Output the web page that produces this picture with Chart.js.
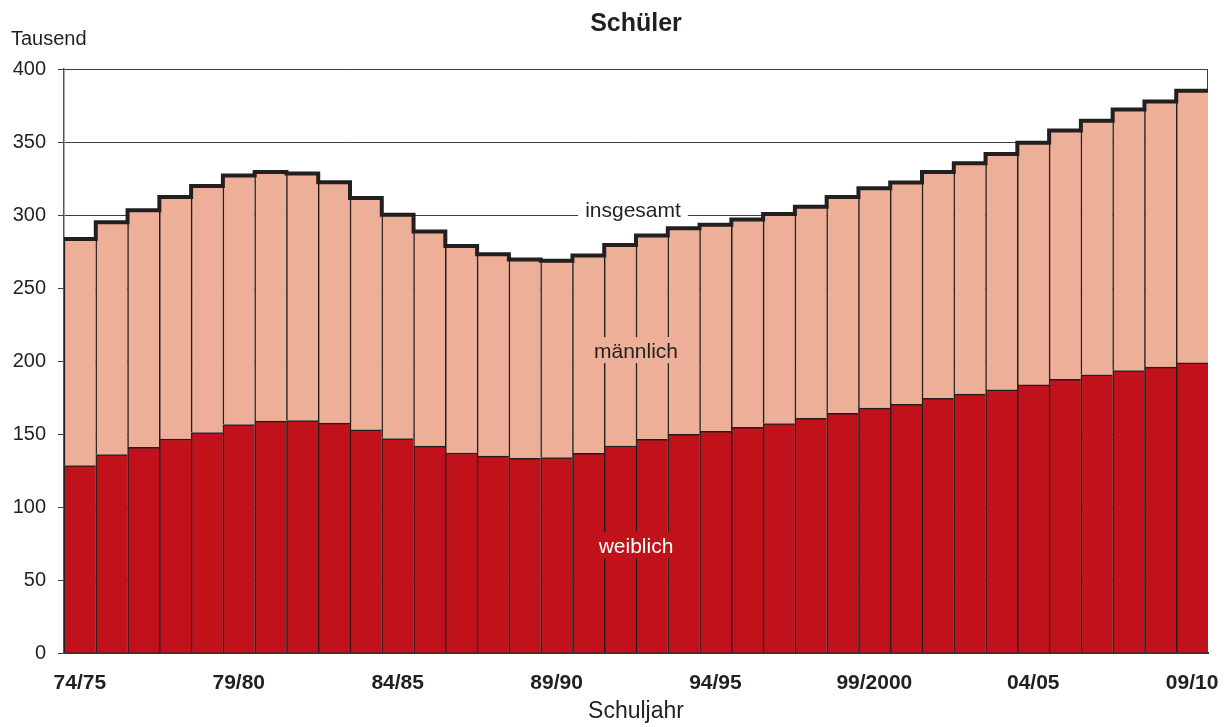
<!DOCTYPE html>
<html lang="de">
<head>
<meta charset="utf-8">
<title>Schüler</title>
<script src="https://cdn.jsdelivr.net/npm/chart.js@4.4.1/dist/chart.umd.min.js"></script>
<style>
    body { margin: 0; background: #ffffff; }
    canvas { display: block; }
</style>
</head>
<body>
<canvas id="schuelerGrafik" width="1232" height="727"></canvas>
<script>
// Schuljahre (Kategorien)
const schuljahre = [
    "74/75", "75/76", "76/77", "77/78", "78/79", "79/80", "80/81", "81/82", "82/83", "83/84",
    "84/85", "85/86", "86/87", "87/88", "88/89", "89/90", "90/91", "91/92", "92/93", "93/94",
    "94/95", "95/96", "96/97", "97/98", "98/99", "99/2000", "00/01", "01/02", "02/03", "03/04",
    "04/05", "05/06", "06/07", "07/08", "08/09", "09/10"
];

// Werte in Tausend
const weiblich = [
    128.4, 135.9, 140.9, 146.6, 151.0, 156.5, 158.8, 159.2, 157.4, 152.8,
    146.9, 141.7, 137.0, 134.8, 133.4, 133.9, 136.8, 141.8, 146.4, 149.8,
    151.9, 154.6, 157.2, 160.7, 164.2, 167.7, 170.4, 174.5, 177.3, 180.2,
    183.6, 187.5, 190.5, 193.5, 195.8, 198.7
];
const insgesamt = [
    283.5, 295.1, 303.3, 312.4, 319.8, 327.1, 329.4, 328.5, 322.5, 311.6,
    300.1, 288.7, 278.7, 273.2, 269.5, 268.6, 272.3, 279.5, 286.0, 291.0,
    293.3, 296.9, 300.6, 305.6, 312.4, 318.4, 322.3, 329.4, 335.4, 341.7,
    349.5, 357.8, 364.5, 372.3, 377.8, 385.1
];
// männlich = insgesamt - weiblich
const maennlich = insgesamt.map((wert, i) => +(wert - weiblich[i]).toFixed(1));

// Y-Achse: 0 bis 400, Schritt 50
const yMin = 0, yMax = 400, ySchritt = 50;

const krasas = {
    teksts: '#231f20',
    rot: '#c1121c',
    rosa: '#edaf97',
    linie: '#231f20',
    gitter: '#3d3a3a'
};
const schrift = '"Liberation Sans", Arial, Helvetica, sans-serif';

// Eigene Zeichnungen: Titel, Beschriftungen, Stufenlinie "insgesamt"
const beschriftung = {
    id: 'beschriftung',
    beforeDatasetsDraw(chart) {
        const { ctx, chartArea } = chart;
        // rechter Rand des Diagramms
        ctx.save();
        ctx.strokeStyle = krasas.gitter;
        ctx.lineWidth = 1;
        ctx.beginPath();
        ctx.moveTo(chartArea.right - 0.5, chartArea.top);
        ctx.lineTo(chartArea.right - 0.5, chartArea.bottom);
        ctx.stroke();
        ctx.restore();
    },
    afterDatasetsDraw(chart) {
        const { ctx, chartArea } = chart;
        const x = chart.scales.x;
        const y = chart.scales.y;
        const balken = chart.getDatasetMeta(0).data;
        const mitte = (chartArea.left + chartArea.right) / 2;

        // Stufenlinie für die Gesamtzahl
        ctx.save();
        ctx.strokeStyle = krasas.linie;
        ctx.lineWidth = 4;
        ctx.lineJoin = 'miter';
        ctx.beginPath();
        insgesamt.forEach((wert, i) => {
            const b = balken[i];
            const x0 = x.getPixelForValue(i) - b.width / 2;
            const x1 = x.getPixelForValue(i) + b.width / 2;
            const py = y.getPixelForValue(wert);
            if (i === 0) ctx.moveTo(x0, py); else ctx.lineTo(x0, py);
            ctx.lineTo(x1, py);
        });
        ctx.stroke();
        ctx.restore();

        ctx.save();
        ctx.fillStyle = krasas.teksts;
        ctx.textBaseline = 'alphabetic';

        // Titel
        ctx.font = 'bold 25px ' + schrift;
        ctx.textAlign = 'center';
        ctx.fillText('Schüler', mitte, 31);

        // Einheit
        ctx.font = '20px ' + schrift;
        ctx.textAlign = 'left';
        ctx.fillText('Tausend', 11, 45);

        // Achsentitel
        ctx.font = '23px ' + schrift;
        ctx.textAlign = 'center';
        ctx.fillText('Schuljahr', mitte, 718);

        // "insgesamt" auf der 300er Linie
        ctx.font = '21px ' + schrift;
        const y300 = y.getPixelForValue(300);
        const xIns = mitte - 3;
        const wIns = ctx.measureText('insgesamt').width;
        ctx.fillStyle = '#ffffff';
        ctx.fillRect(xIns - wIns / 2 - 7, y300 - 3, wIns + 14, 6);
        ctx.fillStyle = krasas.teksts;
        ctx.fillText('insgesamt', xIns, y300 + 2);

        // "männlich" mit rosa Hintergrund
        const yM = y.getPixelForValue(202);
        const wM = ctx.measureText('männlich').width;
        ctx.fillStyle = krasas.rosa;
        ctx.fillRect(mitte - wM / 2 - 5, yM - 21, wM + 10, 26);
        ctx.fillStyle = krasas.teksts;
        ctx.fillText('männlich', mitte, yM);

        // "weiblich" mit rotem Hintergrund
        const yW = y.getPixelForValue(68.5);
        const wW = ctx.measureText('weiblich').width;
        ctx.fillStyle = krasas.rot;
        ctx.fillRect(mitte - wW / 2 - 5, yW - 21, wW + 10, 26);
        ctx.fillStyle = '#ffffff';
        ctx.fillText('weiblich', mitte, yW);

        ctx.restore();
    }
};

new Chart(document.getElementById('schuelerGrafik'), {
    type: 'bar',
    data: {
        labels: schuljahre,
        datasets: [
            {
                label: 'weiblich',
                data: weiblich,
                backgroundColor: krasas.rot,
                borderColor: krasas.linie,
                borderWidth: { top: 1.5, left: 1.5, right: 0, bottom: 0 },
                borderSkipped: false,
                barPercentage: 1,
                categoryPercentage: 1
            },
            {
                label: 'männlich',
                data: maennlich,
                backgroundColor: krasas.rosa,
                borderColor: krasas.linie,
                borderWidth: { top: 1.5, left: 1.5, right: 0, bottom: 0 },
                borderSkipped: false,
                barPercentage: 1,
                categoryPercentage: 1
            }
        ]
    },
    options: {
        responsive: false,
        animation: false,
        layout: { padding: { left: 0, right: 24, top: 69, bottom: 0 } },
        plugins: {
            legend: { display: false },
            title: { display: false },
            tooltip: { enabled: false }
        },
        scales: {
            x: {
                stacked: true,
                afterFit(scale) {
                    scale.height = 74;
                    // Beschriftungen dürfen über den Rand hinausragen
                    scale.paddingLeft = 0;
                    scale.paddingRight = 0;
                },
                grid: { display: false, drawTicks: false },
                border: { display: true, color: '#333333', width: 2 },
                ticks: {
                    autoSkip: false,
                    maxRotation: 0,
                    padding: 18,
                    color: krasas.teksts,
                    font: { family: schrift, size: 21, weight: 'bold' },
                    callback(wert, index) {
                        return index % 5 === 0 ? schuljahre[index] : '';
                    }
                }
            },
            y: {
                stacked: true,
                min: yMin,
                max: yMax,
                afterFit(scale) {
                    scale.width = 64;
                    scale.paddingTop = 0;
                    scale.paddingBottom = 0;
                },
                grid: { color: krasas.gitter, lineWidth: 1, tickLength: 6 },
                border: { display: true, color: '#555555', width: 1.5 },
                ticks: {
                    stepSize: ySchritt,
                    padding: 12,
                    color: krasas.teksts,
                    font: { family: schrift, size: 20 }
                }
            }
        }
    },
    plugins: [beschriftung]
});
</script>
</body>
</html>
